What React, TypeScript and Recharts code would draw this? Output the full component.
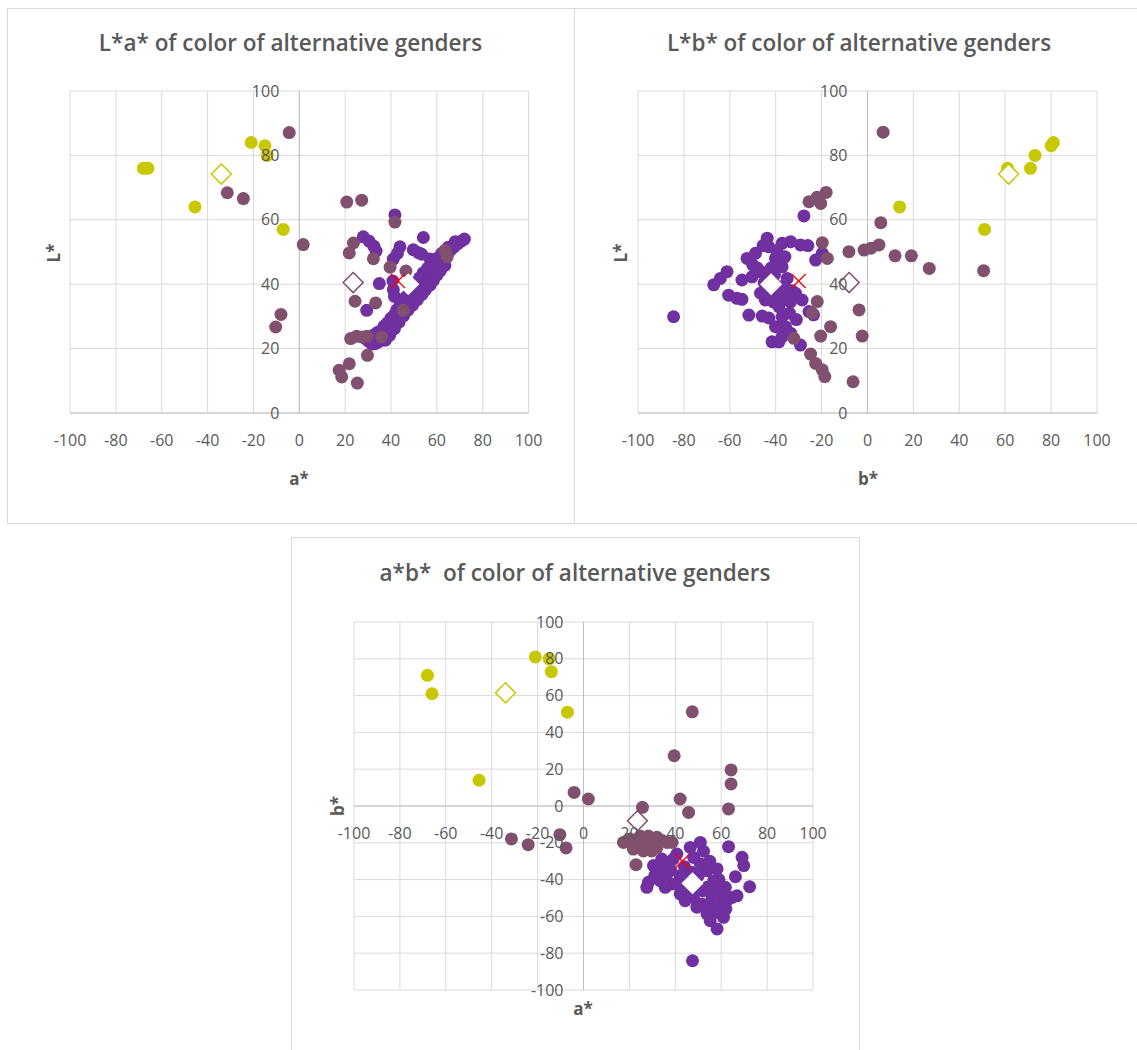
import React from "react";
import { CartesianGrid, ReferenceLine, Scatter, ScatterChart, XAxis, YAxis } from "recharts";

// tick values
const abTicks = [-100, -80, -60, -40, -20, 0, 20, 40, 60, 80, 100];
const lTicks = [0, 20, 40, 60, 80, 100];

// yellow group, one entry per colour: L*, a*, b*
const yellowL = [76, 76, 64, 84, 83, 80, 57];
const yellowA = [-68, -66, -45.5, -21, -15, -14, -7];
const yellowB = [71, 61, 14, 81, 80, 73, 51];

// group means (diamonds) and the red cross
const yellowMean = { L: 74.2, a: -34, b: 61.5 };
const mauveMean = { L: 40.5, a: 23.5, b: -8 };
const purpleMean = { L: 40, a: 47.5, b: -42 };
const crossMark = { L: 41, a: 43, b: -30 };

// mauve points per view
const mauveAL = [
  [-4.4, 87.1], [-31.4, 68.4], [-24.4, 66.6], [1.7, 52.3], [-8, 30.6], [-10.3, 26.7],
  [20.7, 65.5], [27.2, 66.1], [41.7, 59.3], [23.6, 52.8], [21.8, 49.7], [32.3, 47.9],
  [39.6, 45.3], [46.5, 44.1], [63.5, 50.5], [64.5, 48.5], [24.3, 34.7], [33.3, 34.2],
  [45.4, 31.9], [22.4, 23.1], [25, 23.8], [27.2, 23.6], [29.5, 23.8], [35.9, 23.6],
  [29.7, 17.9], [21.8, 15.3], [17.4, 13.3], [18.5, 11.2], [25.3, 9.3],
];
const mauveBL = [
  [6.8, 87.2], [-18, 68.5], [-22, 67], [-25.5, 65.6], [-20.4, 65.1], [5.8, 59.1],
  [5, 52.2], [-19.7, 52.9], [-17.5, 48], [-8.1, 50.1], [-1.5, 50.6], [1.5, 51.2],
  [12, 48.8], [19.1, 48.8], [26.9, 44.9], [50.6, 44.2], [-21.9, 34.6], [-24.1, 31],
  [-3.7, 32], [-16.1, 26.8], [-20.4, 23.9], [-2.3, 23.9], [-32.1, 23.2], [-24.8, 18.3],
  [-22.6, 15.4], [-19.7, 13.4], [-18.6, 11.3], [-6.3, 9.7],
];
const mauveAB = [
  [39.5, 27.3], [42.1, 3.8], [45.8, -3.5], [64.3, 19.6], [64.3, 12], [63.2, -1.6],
  [-4.1, 7.4], [2.1, 3.8], [-31.4, -17.9], [-24.1, -21], [-10.3, -15.6], [-7.6, -22.8],
  [25.7, -0.7], [22.9, -31.9], [47.4, 51.2], [17.4, -19.8], [20.3, -18], [23.2, -18.8],
  [26.1, -20.6], [29, -18.8], [32, -17], [34.2, -18.8], [36.4, -19.8], [38.6, -19.8],
  [21.7, -23.4], [26.1, -24.4], [29.7, -24.4], [32, -22.6], [24.7, -16.3], [28.3, -16.3],
];

// purple points per view
const purpleAL = [
  [41.7, 61.5], [27.9, 54.7], [30.4, 53.4], [32.5, 51.8], [33.5, 50.3], [43.9, 51.6],
  [42.8, 49.6], [41, 47.8], [54.1, 54.5], [49.7, 50.7], [52, 49.8], [53.4, 49.3],
  [34.9, 40.2], [41, 38.3], [41.5, 36.2], [29.4, 31.9], [40.8, 41],
  [72, 54], [70.5, 53.3], [69, 52.5], [67.5, 51.6], [66, 50.6], [64.5, 49.8], [63, 48.8],
  [61.8, 47.6], [60.5, 46.5], [59.5, 45.2], [58.5, 44.2], [57.5, 43], [56.5, 42],
  [55.5, 41], [54.5, 40], [53.5, 39.2], [52.5, 38.2], [51.5, 37.2], [50.5, 36.3],
  [49.5, 35.4], [48.5, 34.5], [47.5, 33.6], [46.5, 32.7], [45.5, 31.8], [44.5, 30.8],
  [43.5, 29.8], [42.5, 28.8], [41.5, 27.8], [40.5, 26.8], [39.5, 25.8], [38.5, 24.9],
  [37.5, 24.1], [36.5, 23.3], [35.5, 22.6], [34.3, 22], [33, 21.5], [31.7, 21.4],
  [30.3, 22.2], [29, 23],
  [68, 53.2], [65, 51.5], [62, 49.5], [60, 48], [58, 46.5], [57, 47.8], [56, 45],
  [54, 43.5], [52.5, 42], [51, 40.5], [49.5, 39], [48, 37.5], [46.5, 36], [45, 35],
  [44, 33.5], [42.5, 32], [41.5, 30.5], [40, 29.5], [38.5, 28], [37, 27], [35.5, 25.5],
  [34, 25], [32.5, 24.2],
  [63.5, 45.8], [61.5, 44.2], [60, 42.8], [58.5, 41.2], [57, 39.7], [55, 38.2],
  [53.5, 36.8], [51.5, 35.2], [49.5, 33.6], [47.5, 32], [45.5, 30.2], [43.5, 28.2],
  [41.5, 26.2], [39.5, 24.2], [37.5, 22.6],
];
const purpleBL = [
  [-84.5, 29.9], [-27.7, 61.2], [-67, 39.8], [-64.1, 41.8], [-61.2, 43.9], [-60.5, 36.6],
  [-56.9, 35.6], [-54.7, 35.3], [-51.7, 30.4], [-45.9, 30.1], [-43, 29.5], [-43.7, 54.3],
  [-43, 51.6], [-52.5, 48], [-48.8, 49.6], [-50, 46], [-54.7, 41.3], [-50.3, 42.3],
  [-46.6, 43.9], [-46.6, 37.2], [-44.5, 35.1], [-40.1, 48], [-37.2, 52.7], [-33.5, 53.2],
  [-29.2, 52.2], [-26, 52], [-37.2, 45.4], [-35, 41.8], [-38.6, 39.2], [-40.5, 43],
  [-36.5, 35.1], [-38.6, 33], [-31.4, 37.2], [-28.5, 35.1], [-25.5, 31.5], [-23.5, 30.5],
  [-22.6, 47.5], [-19.7, 49.6], [-37.2, 29.9], [-40.1, 26.8], [-35.7, 26.8], [-37.2, 23.7],
  [-41.6, 22.1], [-38.6, 22.1], [-33.5, 24.8], [-29.2, 21.1], [-33, 38], [-34, 31],
  [-31, 29], [-45.5, 52], [-42, 45], [-45, 40.5], [-43.5, 43], [-40, 37.5], [-44, 36.5],
  [-41, 34.5], [-48, 45], [-36, 48.5], [-39.5, 50.5], [-35.5, 38.5], [-33.5, 34.5],
];
const purpleAB = [
  [47.5, -84.1], [63.2, -22.1], [69.1, -27.9], [69.8, -32.4], [66.2, -38.4], [72.4, -43.9],
  [66.9, -48.8], [64.7, -49.7], [62.5, -51.5], [50.9, -19.8], [46.5, -22.5], [40.7, -26.1],
  [34.1, -28.8], [30.5, -32.4], [28.3, -41.5], [27.6, -44.2], [33.4, -40.6], [36.3, -37],
  [38.5, -42.4], [42.1, -37.9], [42.1, -47.8], [44.3, -51.5], [47.9, -49.7], [50.9, -31.5],
  [53.8, -35.2], [58.2, -34.2], [56.7, -40.6], [53.8, -44.2], [51.6, -53.3], [53.8, -58.7],
  [55.2, -62.3], [58.2, -66.8], [61, -60.5], [59.6, -55.1], [60.3, -49.7], [61.8, -44.2],
  [58.2, -47.8], [45.1, -40.6], [36.3, -31.5], [40.7, -42.4], [35.6, -44.2], [49.4, -55],
  [55.2, -54.2], [52.3, -24.6], [32, -36], [48, -28], [55, -30], [57, -45], [44, -33],
  [38, -35], [31, -38], [47, -36], [50, -38], [52, -46], [56, -50], [49, -46], [39, -29],
  [34, -34], [45, -46], [59, -40], [62, -56], [57, -58],
];

const YELLOW = "#c8c800";
const MAUVE = "#80506e";
const PURPLE = "#7030a0";
const GRID = "#d9d9d9";
const AXIS = "#bfbfbf";
const TEXT = "#595959";
const FONT = "'Open Sans', sans-serif";

type Pt = { x: number; y: number };
const pairs = (arr: number[][]): Pt[] => arr.map(([x, y]) => ({ x, y }));
const zip = (xs: number[], ys: number[]): Pt[] => xs.map((x, i) => ({ x, y: ys[i] }));

const dot = (color: string) => (p: any) => <circle cx={p.cx} cy={p.cy} r={6.5} fill={color} />;
const diamond = (stroke: string) => (p: any) => {
  const s = 10;
  return (
    <polygon
      points={`${p.cx},${p.cy - s} ${p.cx + s},${p.cy} ${p.cx},${p.cy + s} ${p.cx - s},${p.cy}`}
      fill="#ffffff"
      stroke={stroke}
      strokeWidth={1.5}
    />
  );
};
const cross = (p: any) => {
  const s = 7;
  return (
    <g stroke="#ff0000" strokeWidth={1.3}>
      <line x1={p.cx - s} y1={p.cy - s} x2={p.cx + s} y2={p.cy + s} />
      <line x1={p.cx - s} y1={p.cy + s} x2={p.cx + s} y2={p.cy - s} />
    </g>
  );
};

type Box = { x: number; y: number; w: number; h: number };
type Panel = {
  title: string;
  titleAt: [number, number];
  frame: Box & { noRight?: boolean; noBottom?: boolean };
  plot: Box;
  yDomain: [number, number];
  yTicks: number[];
  xLabel: string;
  xLabelAt: [number, number];
  yLabel: string;
  yLabelAt: [number, number];
  purple: Pt[];
  mauve: Pt[];
  yellow: Pt[];
  means: [Pt, Pt, Pt];
  cross: Pt;
};

const panels: Panel[] = [
  {
    title: "L*a* of color of alternative genders",
    titleAt: [290.5, 43],
    frame: { x: 7, y: 8, w: 568, h: 516 },
    plot: { x: 70, y: 91, w: 458.6, h: 322 },
    yDomain: [0, 100],
    yTicks: lTicks,
    xLabel: "a*",
    xLabelAt: [299, 478],
    yLabel: "L*",
    yLabelAt: [53, 253],
    purple: pairs(purpleAL),
    mauve: pairs(mauveAL),
    yellow: zip(yellowA, yellowL),
    means: [
      { x: yellowMean.a, y: yellowMean.L },
      { x: mauveMean.a, y: mauveMean.L },
      { x: purpleMean.a, y: purpleMean.L },
    ],
    cross: { x: crossMark.a, y: crossMark.L },
  },
  {
    title: "L*b* of color of alternative genders",
    titleAt: [859, 43],
    frame: { x: 574, y: 8, w: 563, h: 516, noRight: true },
    plot: { x: 638, y: 91, w: 459, h: 322 },
    yDomain: [0, 100],
    yTicks: lTicks,
    xLabel: "b*",
    xLabelAt: [868, 478],
    yLabel: "L*",
    yLabelAt: [620, 253],
    purple: pairs(purpleBL),
    mauve: pairs(mauveBL),
    yellow: zip(yellowB, yellowL),
    means: [
      { x: yellowMean.b, y: yellowMean.L },
      { x: mauveMean.b, y: mauveMean.L },
      { x: purpleMean.b, y: purpleMean.L },
    ],
    cross: { x: crossMark.b, y: crossMark.L },
  },
  {
    title: "a*b*  of color of alternative genders",
    titleAt: [575, 573],
    frame: { x: 291, y: 537, w: 569, h: 513, noBottom: true },
    plot: { x: 354, y: 622, w: 459, h: 368 },
    yDomain: [-100, 100],
    yTicks: abTicks,
    xLabel: "a*",
    xLabelAt: [583, 1008],
    yLabel: "b*",
    yLabelAt: [337, 806],
    purple: pairs(purpleAB),
    mauve: pairs(mauveAB),
    yellow: zip(yellowA, yellowB),
    means: [
      { x: yellowMean.a, y: yellowMean.b },
      { x: mauveMean.a, y: mauveMean.b },
      { x: purpleMean.a, y: purpleMean.b },
    ],
    cross: { x: crossMark.a, y: crossMark.b },
  },
];

const AX_W = 20;
const AX_H = 20;

function Chart({ p }: { p: Panel }) {
  const { frame, plot } = p;
  const left = plot.x - frame.x;
  const top = plot.y - frame.y;
  const right = frame.x + frame.w - plot.x - plot.w;
  const bottom = frame.y + frame.h - plot.y - plot.h;
  const [yMin, yMax] = p.yDomain;
  // where the axes cross (value 0 on each scale)
  const axisX = left + (plot.w * (0 - -100)) / 200;
  const axisY = top + (plot.h * (yMax - 0)) / (yMax - yMin);

  const xTick = (t: any) => (
    <text x={t.x} y={axisY + 27} dy="0.35em" textAnchor="middle" fontSize={16} fill={TEXT} fontFamily={FONT}>
      {t.payload.value}
    </text>
  );
  const yTick = (t: any) => (
    <text x={axisX - 20} y={t.y} dy="0.35em" textAnchor="end" fontSize={16} fill={TEXT} fontFamily={FONT}>
      {t.payload.value}
    </text>
  );

  const textStyle: React.CSSProperties = {
    position: "absolute",
    transform: "translate(-50%, -50%)",
    color: TEXT,
    fontFamily: FONT,
    lineHeight: 1,
    whiteSpace: "pre",
  };

  return (
    <>
      <div
        style={{
          position: "absolute",
          left: frame.x,
          top: frame.y,
          width: frame.w,
          height: frame.h,
          boxSizing: "border-box",
          border: `1px solid ${GRID}`,
          borderRight: frame.noRight ? "none" : `1px solid ${GRID}`,
          borderBottom: frame.noBottom ? "none" : `1px solid ${GRID}`,
        }}
      />
      <div style={{ position: "absolute", left: frame.x, top: frame.y }}>
        <ScatterChart
          width={frame.w}
          height={frame.h}
          margin={{ top, left: left - AX_W, right, bottom: bottom - AX_H }}
        >
          <CartesianGrid stroke={GRID} />
          <XAxis
            type="number"
            dataKey="x"
            domain={[-100, 100]}
            ticks={abTicks}
            interval={0}
            height={AX_H}
            axisLine={false}
            tickLine={false}
            tick={xTick}
          />
          <YAxis
            type="number"
            dataKey="y"
            domain={p.yDomain}
            ticks={p.yTicks}
            interval={0}
            width={AX_W}
            axisLine={false}
            tickLine={false}
            tick={yTick}
          />
          <ReferenceLine x={0} stroke={AXIS} />
          <ReferenceLine y={0} stroke={AXIS} />
          <Scatter data={p.purple} shape={dot(PURPLE)} isAnimationActive={false} />
          <Scatter data={p.mauve} shape={dot(MAUVE)} isAnimationActive={false} />
          <Scatter data={p.yellow} shape={dot(YELLOW)} isAnimationActive={false} />
          <Scatter data={[p.means[0]]} shape={diamond(YELLOW)} isAnimationActive={false} />
          <Scatter data={[p.means[1]]} shape={diamond(MAUVE)} isAnimationActive={false} />
          <Scatter data={[p.means[2]]} shape={diamond("#ffffff")} isAnimationActive={false} />
          <Scatter data={[p.cross]} shape={cross} isAnimationActive={false} />
        </ScatterChart>
      </div>
      <div style={{ ...textStyle, left: p.titleAt[0], top: p.titleAt[1], fontSize: 22.5, fontWeight: 600 }}>
        {p.title}
      </div>
      <div style={{ ...textStyle, left: p.xLabelAt[0], top: p.xLabelAt[1], fontSize: 17, fontWeight: 700 }}>
        {p.xLabel}
      </div>
      <div
        style={{
          ...textStyle,
          left: p.yLabelAt[0],
          top: p.yLabelAt[1],
          fontSize: 17,
          fontWeight: 700,
          transform: "translate(-50%, -50%) rotate(-90deg)",
        }}
      >
        {p.yLabel}
      </div>
    </>
  );
}

export default function App() {
  return (
    <div
      style={{
        position: "absolute",
        left: 0,
        top: 0,
        width: 1137,
        height: 1050,
        overflow: "hidden",
        background: "#ffffff",
      }}
    >
      {panels.map((p) => (
        <Chart key={p.title} p={p} />
      ))}
    </div>
  );
}
